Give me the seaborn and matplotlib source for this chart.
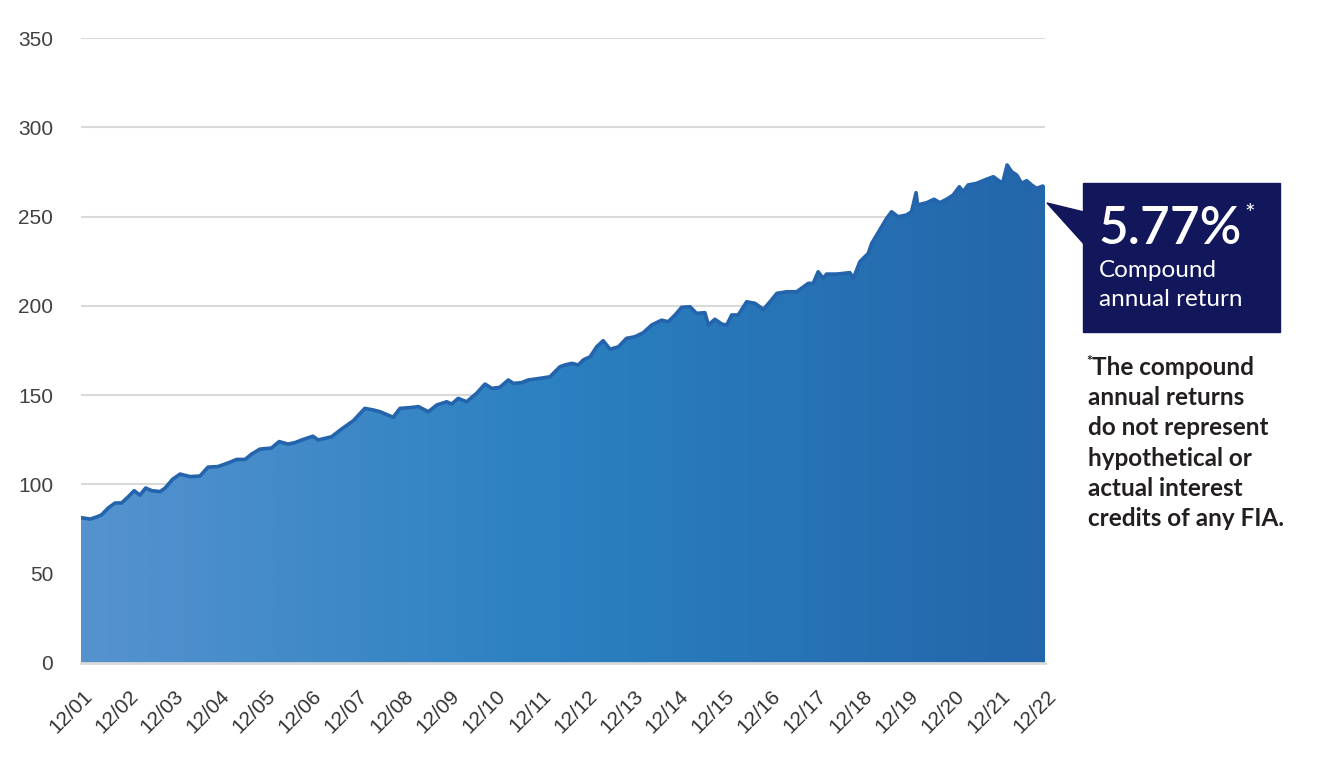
import numpy as np
import pandas as pd
import matplotlib
matplotlib.use("Agg")
import matplotlib.pyplot as plt
import matplotlib.transforms as mtransforms
import seaborn as sns
from matplotlib.colors import LinearSegmentedColormap
from matplotlib.patches import Polygon, Rectangle

# ---- data: months since Dec 2001, index value ----
months = [0, 2.4, 4.1, 5.4, 7.1, 8.9, 10.6, 12.3, 13.9, 15.4, 16.9, 18.5, 20.7, 22.0,
          24.0, 25.9, 28.5, 31.1, 33.2, 35.8, 38.4, 40.7, 42.9, 44.6, 46.8, 49.8,
          51.8, 54.1, 55.9, 57.7, 60.6, 62.0, 65.5, 68.1, 71.2, 74.2, 76.4, 78.2,
          80.2, 81.6, 83.4, 86.0, 88.2, 90.8, 93.0, 95.6, 96.9, 98.6, 100.8, 103.4,
          105.6, 107.4, 109.5, 111.7, 113.0, 115.2, 116.9, 120.0, 122.6, 125.2,
          126.5, 128.3, 130.0, 131.3, 133.1, 134.8, 136.5, 138.3, 140.5, 142.6,
          144.8, 147.0, 149.2, 151.8, 153.5, 155.3, 157.0, 159.2, 160.9, 163.1,
          164.0, 165.7, 167.5, 168.8, 170.1, 171.8, 174.0, 176.2, 178.4, 180.5,
          181.9, 184.5, 187.1, 190.1, 191.4, 192.7, 194.0, 194.9, 197.5, 201.0,
          201.9, 203.6, 205.8, 206.7, 209.3, 210.6, 211.9, 213.6, 215.8, 217.1,
          218.3, 218.7, 221.1, 223.0, 224.5, 226.3, 228.0, 229.6, 230.6, 231.9,
          234.1, 236.7, 238.5, 240.9, 242.1, 243.3, 244.6, 245.9, 247.2, 248.5,
          249.8, 251.4, 252.0]
values = [81.4, 80.6, 81.8, 83.0, 86.8, 89.6, 89.6, 93.0, 96.5, 94.0, 98.0, 96.5, 96.0, 98.0,
          103.0, 105.8, 104.4, 104.7, 109.7, 110.0, 112.0, 114.0, 114.0, 117.0, 119.8, 120.4,
          124.0, 122.6, 123.4, 124.9, 127.0, 124.9, 126.7, 131.0, 135.7, 142.6, 141.7, 140.7,
          138.9, 137.6, 142.6, 143.0, 143.6, 140.7, 144.5, 146.3, 145.0, 148.2, 146.3, 151.0,
          156.2, 153.8, 154.4, 158.5, 156.6, 157.0, 158.5, 159.4, 160.3, 165.9,
          166.9, 167.8, 166.9, 169.7, 171.5, 177.1, 180.5, 175.7, 177.1, 181.8,
          182.7, 185.0, 189.3, 192.0, 191.1, 194.9, 199.2, 199.5, 195.8, 196.2,
          189.3, 192.5, 189.8, 189.3, 194.9, 194.9, 202.3, 201.4, 198.0, 203.3,
          207.0, 207.9, 207.9, 212.6, 212.6, 219.1, 215.4, 217.8, 217.8, 218.6,
          215.4, 224.7, 229.4, 235.0, 244.3, 249.0, 252.7, 249.9, 250.9, 252.7,
          263.4, 256.5, 257.8, 259.7, 257.8, 259.7, 262.1, 266.7, 263.9, 267.7,
          268.6, 270.9, 272.3, 268.6, 278.9, 275.1, 273.3, 268.6, 270.1, 267.7,
          265.8, 267.1, 265.8]
tick_months = list(range(0, 253, 12))
tick_labels = [f"12/{y % 100:02d}" for y in range(2001, 2023)]
y_ticks = [0, 50, 100, 150, 200, 250, 300, 350]

df = pd.DataFrame({"month": months, "value": values})

sns.set_theme(style="white")
plt.rcParams["font.family"] = ["Liberation Sans", "DejaVu Sans"]

W, H = 1327, 761
fig = plt.figure(figsize=(W / 100, H / 100), dpi=100)
ax = fig.add_axes([81 / W, 1 - 663 / H, (1045 - 81) / W, (663 - 38) / H])

# gradient area
poly = ax.fill_between(df["month"], df["value"], 0, color="none", lw=0)
cmap = LinearSegmentedColormap.from_list("g", ["#5593CF", "#2A80C0", "#2366AA"])
grad = np.linspace(0, 1, 512).reshape(1, -1)
im = ax.imshow(grad, cmap=cmap, aspect="auto", extent=[0, 252, 0, 350],
               origin="lower", zorder=2)
path = poly.get_paths()[0]
im.set_clip_path(path, ax.transData)

sns.lineplot(data=df, x="month", y="value", ax=ax, color="#2364AC", lw=2.6, zorder=3)

ax.set_xlim(0, 252)
ax.set_ylim(0, 350)
ax.set_xticks(tick_months)
ax.set_xticklabels(tick_labels, rotation=45, ha="right", va="center",
                   rotation_mode="anchor", fontsize=15, color="#333333")
ax.set_yticks(y_ticks)
ax.set_yticklabels([str(v) for v in y_ticks], fontsize=15, color="#404040")
ax.tick_params(axis="y", length=0, pad=20)
ax.tick_params(axis="x", length=4, width=1.5, color="#d9d9d9", pad=18, direction="out")
shift = mtransforms.ScaledTranslation(0.08, 0, fig.dpi_scale_trans)
for lab in ax.get_xticklabels():
    lab.set_transform(lab.get_transform() + shift)
ax.set_xlabel("")
ax.set_ylabel("")
for s in ["left", "right", "top"]:
    ax.spines[s].set_visible(False)
ax.spines["bottom"].set_color("#d9d9d9")
ax.spines["bottom"].set_linewidth(2)
ax.spines["bottom"].set_zorder(4)
ax.grid(axis="y", color="#d9d9d9", lw=1.5)
ax.grid(axis="x", visible=False)
ax.set_axisbelow(True)

# annotation box
def fx(x):
    return x / W

def fy(y):
    return 1 - y / H

navy = "#12175C"
fig.patches.append(Rectangle((fx(1083), fy(332)), fx(1280) - fx(1083), fy(183) - fy(332),
                             transform=fig.transFigure, color=navy, zorder=5))
fig.patches.append(Polygon([(fx(1047), fy(203)), (fx(1084), fy(212)), (fx(1084), fy(244))],
                           closed=True, transform=fig.transFigure, color=navy, zorder=5))

fig.text(fx(1098), fy(244), "5.77%", color="white", fontsize=37, family="Lato",
         fontweight="semibold", va="baseline", ha="left", zorder=6)
fig.text(fx(1244), fy(222), "*", color="white", fontsize=18, family="Lato",
         va="baseline", ha="left", zorder=6)
fig.text(fx(1099), fy(277), "Compound", color="white", fontsize=17.5, family="Lato",
         va="baseline", ha="left", zorder=6)
fig.text(fx(1099), fy(306), "annual return", color="white", fontsize=17.5, family="Lato",
         va="baseline", ha="left", zorder=6)

foot = ["The compound", "annual returns", "do not represent", "hypothetical or",
        "actual interest", "credits of any FIA."]
fig.text(fx(1086), fy(365), "*", color="#231F20", fontsize=10, family="Lato",
         fontweight="bold", va="baseline", ha="left")
for i, line in enumerate(foot):
    fig.text(fx(1092 if i == 0 else 1088), fy(375 + 30.2 * i), line, color="#231F20",
             fontsize=17.5, family="Lato", fontweight="bold", va="baseline", ha="left")

fig.savefig("out.png", dpi=100)
